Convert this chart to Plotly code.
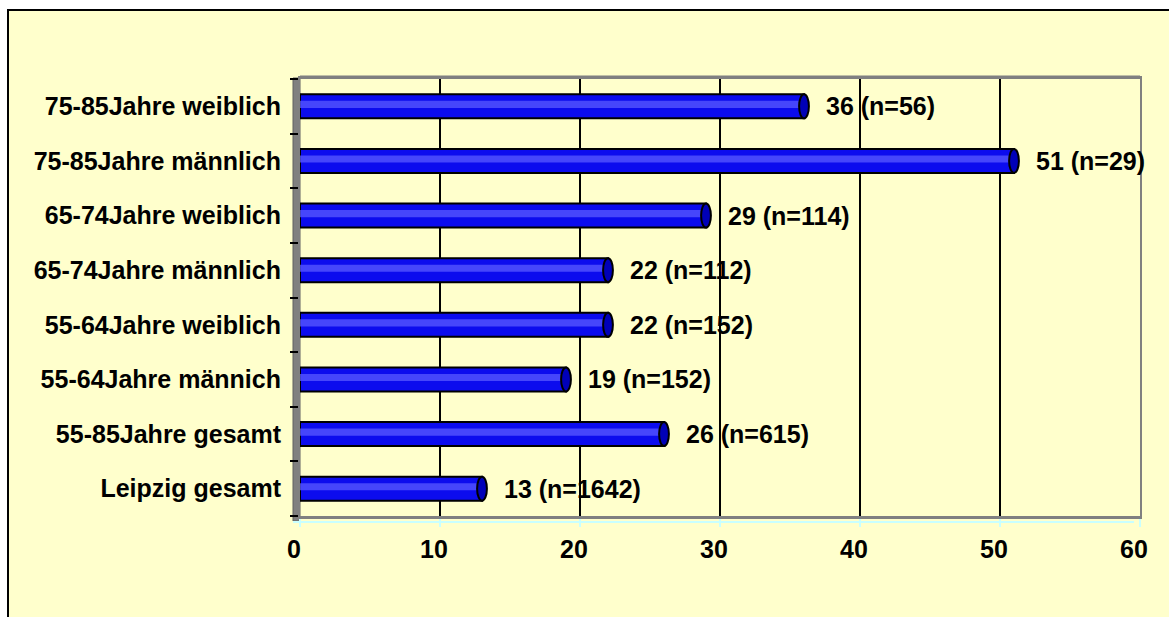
import plotly.graph_objects as go

categories = ["Leipzig gesamt", "55-85Jahre gesamt", "55-64Jahre männich", "55-64Jahre weiblich",
              "65-74Jahre männlich", "65-74Jahre weiblich", "75-85Jahre männlich", "75-85Jahre weiblich"]
values = [13, 26, 19, 22, 22, 29, 51, 36]
sample_n = [1642, 615, 152, 152, 112, 114, 29, 56]
x_ticks = [0, 10, 20, 30, 40, 50, 60]

W, H = 1169, 617
L, R, T, B = 300, 29, 79, 101
pw, ph = W - L - R, H - T - B

def px_x(p):
    return (p - L) / pw

def px_y(p):
    return (H - B - p) / ph

FAM = "Liberation Sans, Arial, sans-serif"
FS = 25
BAR_W = 0.44

labels = [f"{v} (n={n})" for v, n in zip(values, sample_n)]

fig = go.Figure()
fig.add_trace(go.Bar(
    x=values, y=categories, orientation="h", width=BAR_W,
    marker=dict(color="#0C0CEE", line=dict(color="black", width=2)),
    showlegend=False, hoverinfo="skip",
))
fig.add_trace(go.Bar(
    x=values, y=categories, orientation="h", width=0.13, offset=-0.03,
    marker=dict(color="rgba(90,90,255,0.75)", line=dict(width=0)),
    showlegend=False, hoverinfo="skip",
))

shapes = [
    # outer yellow panel with black border
    dict(type="rect", xref="paper", yref="paper", x0=px_x(8), x1=px_x(1200), y0=px_y(650), y1=px_y(10),
         fillcolor="#FFFFCC", line=dict(color="black", width=2), layer="below"),
    # back wall top edge
    dict(type="line", xref="paper", yref="paper", x0=px_x(300), x1=px_x(1140), y0=px_y(77), y1=px_y(77),
         line=dict(color="#808080", width=3), layer="below"),
    # left 3D wall
    dict(type="rect", xref="paper", yref="paper", x0=px_x(293), x1=px_x(300), y0=px_y(521), y1=px_y(78),
         fillcolor="#808080", line=dict(color="#606060", width=1), layer="below"),
    # floor front edge (light)
    dict(type="line", xref="paper", yref="paper", x0=px_x(293), x1=px_x(1134), y0=px_y(522), y1=px_y(522),
         line=dict(color="#C8FFFF", width=2), layer="below"),
]

# cylinder end caps, derived from the data values
for i, v in enumerate(values):
    shapes.append(dict(type="circle", xref="x", yref="y",
                       x0=v - 0.35, x1=v + 0.35, y0=i - BAR_W / 2, y1=i + BAR_W / 2,
                       fillcolor="#0000B8", line=dict(color="black", width=2), layer="above"))

annotations = [dict(x=v, y=c, xref="x", yref="y", text=t, showarrow=False,
                    xanchor="left", xshift=20, yshift=0,
                    font=dict(family=FAM, size=FS, color="black", weight="bold"))
               for v, c, t in zip(values, categories, labels)]

fig.update_layout(
    width=W, height=H,
    margin=dict(l=L, r=R, t=T, b=B),
    paper_bgcolor="white", plot_bgcolor="rgba(0,0,0,0)",
    barmode="overlay",
    font=dict(family=FAM, size=FS, color="black"),
    shapes=shapes,
    annotations=annotations,
    xaxis=dict(range=[0, 60], tickvals=x_ticks, ticktext=[str(t) for t in x_ticks],
               showgrid=True, gridcolor="black", gridwidth=2, zeroline=False,
               showline=True, linecolor="#808080", linewidth=3, mirror=True,
               ticks="outside", ticklen=8, tickcolor="#C8FFFF", tickwidth=2,
               ticklabelstandoff=1, ticklabelshift=-6,
               tickfont=dict(family=FAM, size=FS, color="black", weight="bold")),
    yaxis=dict(categoryorder="array", categoryarray=categories, tickson="boundaries",
               range=[-0.5, len(categories) - 0.5],
               showgrid=False, showline=True, linecolor="#808080", linewidth=2, mirror=True,
               ticks="outside", ticklen=8, tickcolor="black", tickwidth=2,
               ticklabelstandoff=12,
               tickfont=dict(family=FAM, size=FS, color="black", weight="bold")),
)

fig.write_html("out.html", config={"displayModeBar": False},
               post_script="document.body.style.margin='0';")
